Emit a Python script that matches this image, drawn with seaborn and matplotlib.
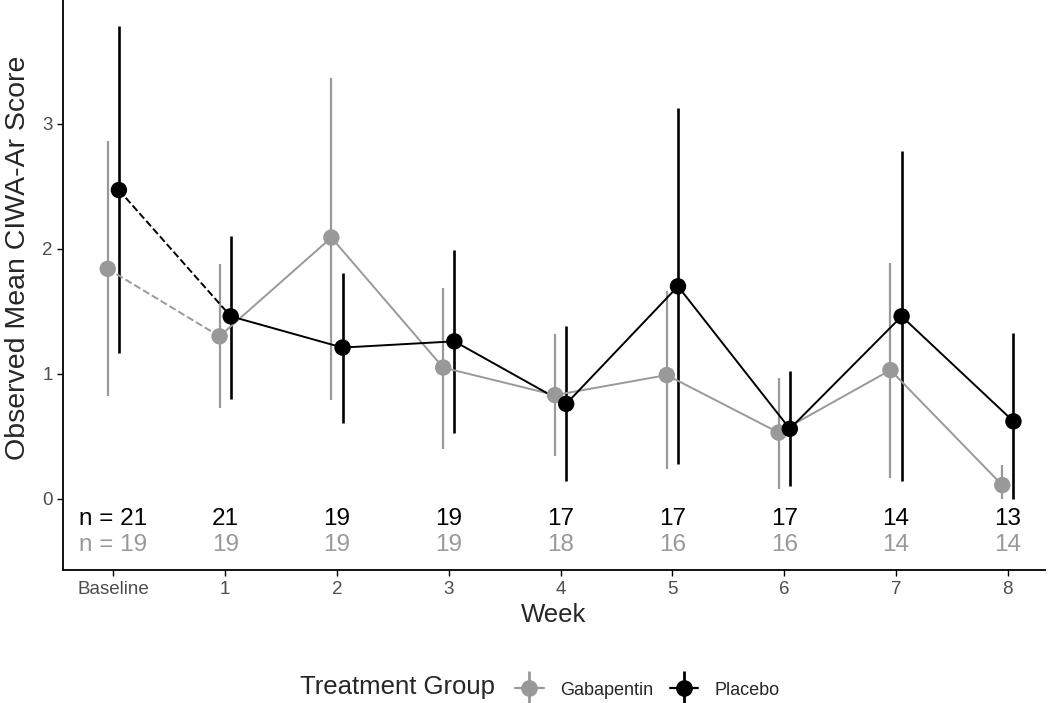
import numpy as np
import pandas as pd
import matplotlib
matplotlib.use("Agg")
import matplotlib.pyplot as plt
from matplotlib.lines import Line2D
import seaborn as sns

# data
weeks = ["Baseline", "1", "2", "3", "4", "5", "6", "7", "8"]
gaba_mean = [1.84, 1.30, 2.09, 1.05, 0.83, 0.99, 0.53, 1.03, 0.11]
gaba_lo = [0.82, 0.73, 0.79, 0.40, 0.34, 0.24, 0.08, 0.17, 0.00]
gaba_hi = [2.86, 1.88, 3.37, 1.69, 1.32, 1.66, 0.97, 1.89, 0.27]
plac_mean = [2.47, 1.46, 1.21, 1.26, 0.76, 1.70, 0.56, 1.46, 0.62]
plac_lo = [1.17, 0.80, 0.61, 0.53, 0.14, 0.28, 0.10, 0.14, 0.00]
plac_hi = [3.78, 2.10, 1.81, 1.99, 1.38, 3.13, 1.02, 2.78, 1.33]
n_plac = [21, 21, 19, 19, 17, 17, 17, 14, 13]
n_gaba = [19, 19, 19, 19, 18, 16, 16, 14, 14]

groups = ["Gabapentin", "Placebo"]
colors = {"Gabapentin": "#999999", "Placebo": "#000000"}
dodge = {"Gabapentin": -0.05, "Placebo": 0.05}

rows = []
for g, m, lo, hi in [("Gabapentin", gaba_mean, gaba_lo, gaba_hi),
                     ("Placebo", plac_mean, plac_lo, plac_hi)]:
    for i in range(len(weeks)):
        rows.append({"week": i, "x": i + dodge[g], "group": g,
                     "mean": m[i], "lo": lo[i], "hi": hi[i]})
df = pd.DataFrame(rows)

sns.set_theme(style="ticks")
plt.rcParams["font.family"] = ["Liberation Sans", "DejaVu Sans"]

fig = plt.figure(figsize=(10.5, 7.03), dpi=100)
ax = fig.add_axes([0.06, 0.189, 0.935, 0.811])

# error bars
for g in groups:
    d = df[df.group == g]
    ax.vlines(d["x"], d["lo"], d["hi"], color=colors[g],
              lw=1.9 if g == "Placebo" else 1.6, zorder=2)

# dashed baseline -> week 1, solid afterwards
sns.lineplot(data=df[df.week <= 1], x="x", y="mean", hue="group", palette=colors,
             hue_order=groups, linestyle="--", lw=1.4, legend=False, ax=ax,
             estimator=None, sort=True)
sns.lineplot(data=df[df.week >= 1], x="x", y="mean", hue="group", palette=colors,
             hue_order=groups, lw=1.4, legend=False, ax=ax,
             estimator=None, sort=True)
sns.scatterplot(data=df, x="x", y="mean", hue="group", palette=colors,
                hue_order=groups, s=140, linewidth=0, legend=False, ax=ax, zorder=3)

# sample sizes
for i in range(len(weeks)):
    lp = f"n = {n_plac[i]}" if i == 0 else str(n_plac[i])
    lg = f"n = {n_gaba[i]}" if i == 0 else str(n_gaba[i])
    ax.text(i, -0.165, lp, ha="center", va="center", fontsize=17.5, color="black")
    ax.text(i, -0.37, lg, ha="center", va="center", fontsize=17.5, color="#999999")

ax.set_xlim(-0.45, 8.33)
ax.set_ylim(-0.57, 3.99)
ax.set_xticks(range(len(weeks)))
ax.set_xticklabels(weeks)
ax.set_yticks([0, 1, 2, 3])
ax.tick_params(labelsize=13.5, colors="#4D4D4D", length=4, width=1)
ax.tick_params(axis="both", color="black")
for s in ["top", "right"]:
    ax.spines[s].set_visible(False)
for s in ["left", "bottom"]:
    ax.spines[s].set_linewidth(1.3)
    ax.spines[s].set_color("black")
ax.set_xlabel("Week", fontsize=18.5, labelpad=4)
ax.set_ylabel("Observed Mean CIWA-Ar Score", fontsize=20.5)
ax.yaxis.set_label_coords(-0.033, 0.547)

# legend
handles = []
for g in groups:
    h1 = Line2D([], [], color=colors[g], marker="o", markersize=11, lw=1.6)
    h2 = Line2D([], [], color=colors[g], marker="|", markersize=24, mew=2.0, lw=0)
    handles.append((h1, h2))
fig.text(0.471, 0.006, "Treatment Group", fontsize=18.5, ha="right", va="bottom")
fig.legend(handles, groups, loc="lower left", bbox_to_anchor=(0.475, -0.017),
           ncol=2, frameon=False, fontsize=13, handlelength=1.6,
           columnspacing=0.9, handletextpad=0.9)

fig.savefig("out.png", dpi=100)
